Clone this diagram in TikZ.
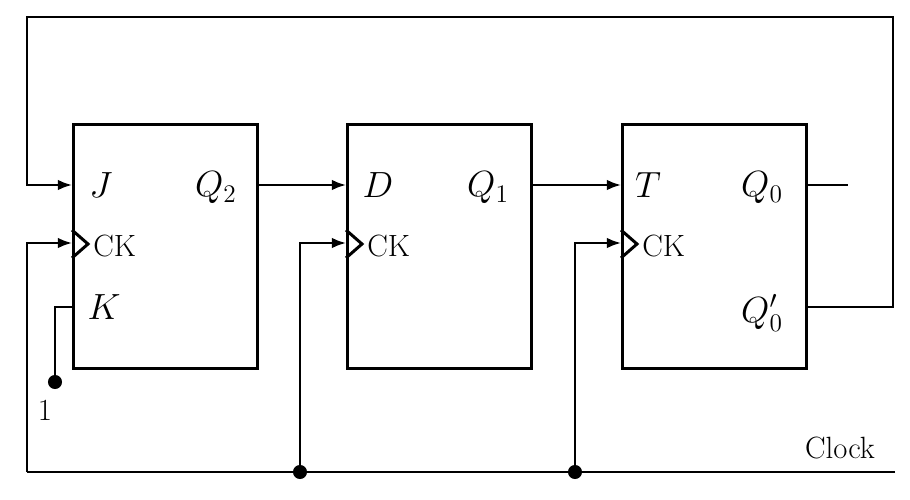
\documentclass[tikz,border=0pt]{standalone}
\usetikzlibrary{arrows.meta}
\begin{document}
\begin{tikzpicture}[x=0.02cm,y=-0.02cm,
  box/.style={draw,line width=1.7pt,minimum width=3.68cm,minimum height=4.88cm,anchor=north west,inner sep=0},
  w/.style={line width=1.2pt},
  a/.style={w,-{Latex[length=8pt,width=6pt]}},
  dot/.style={circle,fill,inner sep=0,minimum size=8pt},
  lbl/.style={font=\fontsize{22}{26}\selectfont},
  sm/.style={font=\fontsize{17.5}{21}\selectfont}]
\useasboundingbox (0,0) rectangle (910,500);
\node[box] (b1) at (72,123) {};
\node[box] (b2) at (346,123) {};
\node[box] (b3) at (621,123) {};
\foreach \b/\x in {b1/72,b2/346,b3/621}{
  \draw[line width=1.7pt] (\x,230) -- (\x+16,244) -- (\x,258);
  \node[anchor=west,sm,inner sep=0] at (\x+21,246) {CK};
}
\node[lbl] (j) at (101,185) {$J$};
\node[lbl] (k) at (104,307) {$K$};
\node[lbl] (q2) at (216,188) {$Q_2$};
\node[lbl] (d) at (378,185) {$D$};
\node[lbl] (q1) at (488,188) {$Q_1$};
\node[lbl] (t) at (648,185) {$T$};
\node[lbl] (q0) at (762,188) {$Q_0$};
\node[lbl] (q0p) at (762,313) {$Q_0'$};
\coordinate (tr) at (893,17);
\coordinate (tl) at (27,17);
\draw[a] (805,307) -- (893,307) -- (tr) -- (tl) -- (27,185) -- (72,185);
\draw[a] (256,185) -- (346,185);
\draw[a] (530,185) -- (621,185);
\draw[w] (805,185) -- (848,185);
\node[dot] (one) at (55,382) {};
\node[sm] at (45,410) {1};
\draw[w] (72,307) -- (55,307) -- (one);
\node[dot] (c1) at (300,472) {};
\node[dot] (c2) at (575,472) {};
\draw[w] (895,472) -- (c2) -- (c1) -- (27,472);
\draw[a] (27,472) -- (27,243) -- (72,243);
\draw[a] (c1) -- (300,243) -- (346,243);
\draw[a] (c2) -- (575,243) -- (621,243);
\node[sm] at (840,448) {Clock};
\end{tikzpicture}
\end{document}
